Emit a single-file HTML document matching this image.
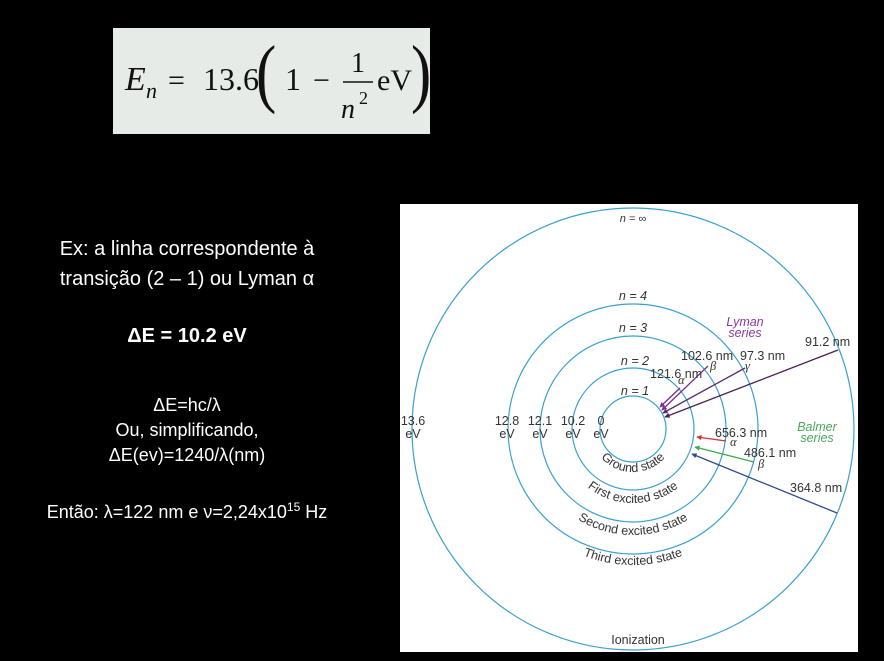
<!DOCTYPE html>
<html><head><meta charset="utf-8"><style>
html,body{margin:0;padding:0;background:#000;width:884px;height:661px;overflow:hidden;font-family:"Liberation Sans",sans-serif;}
.abs{position:absolute;}
.t{color:#fff;text-align:center;width:380px;left:-3px;}
</style></head><body>
<div class="abs" style="left:113px;top:28px;width:317px;height:106px;background:#e6ebe8;"></div>
<svg class="abs" style="left:113px;top:28px" width="317" height="106">
<g font-family="Liberation Serif,serif" fill="#111">
<text x="12" y="62" font-size="34" font-style="italic">E</text>
<text x="33" y="70" font-size="22" font-style="italic">n</text>
<text x="55" y="62" font-size="30">=</text>
<text x="90" y="62" font-size="32">13.6</text>
<text x="143" y="70" font-size="76" transform="scale(0.8,1)" transform-origin="143 62">(</text>
<text x="172" y="62" font-size="32">1</text>
<text x="200" y="62" font-size="30">−</text>
<text x="238" y="44" font-size="28">1</text>
<line x1="230" y1="54" x2="260" y2="54" stroke="#111" stroke-width="1.5"/>
<text x="228" y="90" font-size="28" font-style="italic">n</text>
<text x="246" y="76" font-size="18">2</text>
<text x="264" y="62" font-size="30">eV</text>
<text x="298" y="70" font-size="76" transform="scale(0.8,1)" transform-origin="298 62">)</text>
</g></svg>
<div class="abs t" style="top:234px;font-size:20px;line-height:30px;">Ex: a linha correspondente à<br>transição (2 – 1) ou Lyman α</div>
<div class="abs t" style="top:325px;font-size:20px;font-weight:bold;">ΔE = 10.2 eV</div>
<div class="abs t" style="top:393px;font-size:18px;line-height:25px;">ΔE=hc/λ<br>Ou, simplificando,<br>ΔE(ev)=1240/λ(nm)</div>
<div class="abs t" style="top:500px;font-size:18px;">Então: λ=122 nm e ν=2,24x10<sup style="font-size:12px">15</sup> Hz</div>

<svg class="abs" style="left:400px;top:204px" width="458" height="448" viewBox="400 204 458 448">
<defs>
<marker id="ah" markerWidth="4" markerHeight="4" refX="3.5" refY="2" orient="auto"><path d="M0,0L4,2L0,4z" fill="context-stroke"/></marker>
<path id="p1" d="M590,429 A43,43 0 0 0 676,429"/>
<path id="p2" d="M559,429 A74,74 0 0 0 707,429"/>
<path id="p3" d="M527,429 A106,106 0 0 0 739,429"/>
<path id="p4" d="M497,429 A136,136 0 0 0 769,429"/>
</defs>
<rect x="400" y="204" width="458" height="448" fill="#fff"/>
<g fill="none" stroke="#3aa0d2" stroke-width="1.2">
<circle cx="633" cy="429" r="33"/>
<circle cx="633" cy="429" r="61"/>
<circle cx="633" cy="429" r="93"/>
<circle cx="633" cy="429" r="125"/>
<circle cx="633" cy="429" r="221"/>
</g>
<g stroke-width="1.3" fill="none" marker-end="url(#ah)">
<line x1="680" y1="388" x2="660" y2="407" stroke="#7b2c8e"/>
<line x1="708" y1="366" x2="662" y2="410" stroke="#7b2c8e"/>
<line x1="745" y1="368" x2="663" y2="413" stroke="#5a2a6e"/>
<line x1="838" y1="350" x2="665" y2="417" stroke="#4a1f55"/>
<line x1="726" y1="441" x2="697" y2="437" stroke="#d2323c"/>
<line x1="754" y1="462" x2="695" y2="447" stroke="#3ea84a"/>
<line x1="837" y1="513" x2="692" y2="454" stroke="#2d4a8a"/>
</g>
<g font-size="12.5" fill="#333" font-family="Liberation Sans,sans-serif">
<text x="633" y="222" text-anchor="middle" font-style="italic" font-size="11">n = ∞</text>
<text x="633" y="300" text-anchor="middle" font-style="italic">n = 4</text>
<text x="633" y="332" text-anchor="middle" font-style="italic">n = 3</text>
<text x="635" y="365" text-anchor="middle" font-style="italic">n = 2</text>
<text x="635" y="395" text-anchor="middle" font-style="italic">n = 1</text>
<text x="413" y="425" text-anchor="middle">13.6</text><text x="413" y="438" text-anchor="middle">eV</text>
<text x="507" y="425" text-anchor="middle">12.8</text><text x="507" y="438" text-anchor="middle">eV</text>
<text x="540" y="425" text-anchor="middle">12.1</text><text x="540" y="438" text-anchor="middle">eV</text>
<text x="573" y="425" text-anchor="middle">10.2</text><text x="573" y="438" text-anchor="middle">eV</text>
<text x="601" y="425" text-anchor="middle">0</text><text x="601" y="438" text-anchor="middle">eV</text>
<text x="650" y="378">121.6 nm</text>
<text x="681" y="360">102.6 nm</text>
<text x="740" y="360">97.3 nm</text>
<text x="805" y="346">91.2 nm</text>
<text x="715" y="437">656.3 nm</text>
<text x="744" y="457">486.1 nm</text>
<text x="790" y="492">364.8 nm</text>
<text x="678" y="384" font-style="italic" font-family="Liberation Serif,serif">α</text>
<text x="710" y="370" font-style="italic" font-family="Liberation Serif,serif">β</text>
<text x="745" y="370" font-style="italic" font-family="Liberation Serif,serif">γ</text>
<text x="730" y="446" font-style="italic" font-family="Liberation Serif,serif">α</text>
<text x="758" y="468" font-style="italic" font-family="Liberation Serif,serif">β</text>
<text x="745" y="326" text-anchor="middle" fill="#8a3a9a" font-style="italic">Lyman</text>
<text x="745" y="337" text-anchor="middle" fill="#8a3a9a" font-style="italic">series</text>
<text x="817" y="431" text-anchor="middle" fill="#4aaa5a" font-style="italic">Balmer</text>
<text x="817" y="442" text-anchor="middle" fill="#4aaa5a" font-style="italic">series</text>
<text x="638" y="644" text-anchor="middle">Ionization</text>
<text font-size="12.5"><textPath href="#p1" startOffset="50%" text-anchor="middle">Ground state</textPath></text>
<text font-size="12.5"><textPath href="#p2" startOffset="50%" text-anchor="middle">First excited state</textPath></text>
<text font-size="12.5"><textPath href="#p3" startOffset="50%" text-anchor="middle">Second excited state</textPath></text>
<text font-size="12.5"><textPath href="#p4" startOffset="50%" text-anchor="middle">Third excited state</textPath></text>
</g>
</svg>
</body></html>
